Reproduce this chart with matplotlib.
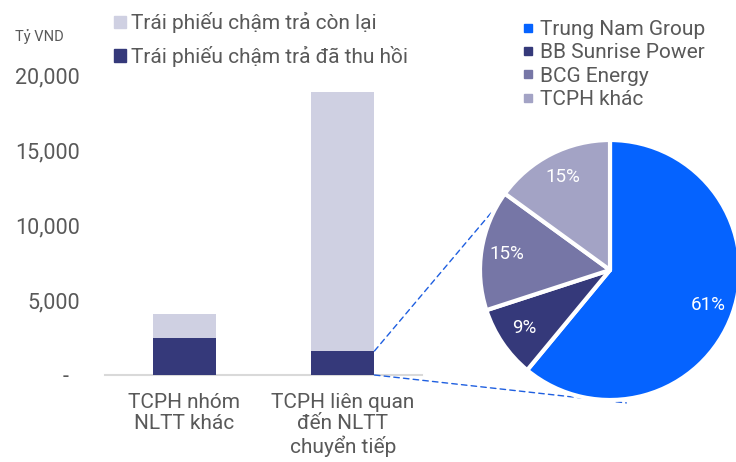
import matplotlib.pyplot as plt
from matplotlib.patches import Patch, ConnectionPatch
from matplotlib.lines import Line2D
import numpy as np

plt.rcParams['font.family'] = ['Roboto', 'DejaVu Sans']

# data
categories = ['TCPH nhóm\nNLTT khác', 'TCPH liên quan\nđến NLTT\nchuyển tiếp']
recovered = [2500, 1600]          # Trái phiếu chậm trả đã thu hồi
remaining = [1600, 17300]         # Trái phiếu chậm trả còn lại
yticks = [0, 5000, 10000, 15000, 20000]
ytick_labels = ['-  ', '5,000', '10,000', '15,000', '20,000']

pie_labels = ['Trung Nam Group', 'BB Sunrise Power', 'BCG Energy', 'TCPH khác']
pie_values = [61, 9, 15, 15]

dark = '#35397A'
light = '#CFD0E2'
pie_colors = ['#0563FF', '#35397A', '#7676A6', '#A3A3C5']
grey = '#595959'

W, H = 736, 462
fig = plt.figure(figsize=(W / 100, H / 100), dpi=100)

# bar chart
ax = fig.add_axes([105 / W, 1 - 375 / H, 317 / W, 300 / H])
x = np.arange(len(categories))
ax.bar(x, recovered, width=0.4, color=dark, zorder=2)
ax.bar(x, remaining, width=0.4, bottom=recovered, color=light, zorder=2)
ax.set_xlim(-0.5, 1.5)
ax.set_ylim(0, 20000)
ax.set_yticks(yticks)
ax.set_yticklabels(ytick_labels)
ax.set_xticks(x)
ax.set_xticklabels(categories, fontsize=15, color=grey, linespacing=1.15)
ax.tick_params(axis='y', length=0, labelsize=15.5, labelcolor=grey, pad=18)
ax.tick_params(axis='x', length=0, pad=13)
for s in ['top', 'right', 'left']:
    ax.spines[s].set_visible(False)
ax.spines['bottom'].set_color('#D9D9D9')
ax.spines['bottom'].set_linewidth(1.5)
ax.spines['bottom'].set_zorder(1)

fig.text(15 / W, 1 - 37 / H, 'Tỷ VND', fontsize=10.5, color=grey, va='center')

handles = [Patch(color=light), Patch(color=dark)]
fig.legend(handles, ['Trái phiếu chậm trả còn lại', 'Trái phiếu chậm trả đã thu hồi'],
           loc='upper left', bbox_to_anchor=(106 / W, 1 - 4 / H), frameon=False,
           fontsize=15, labelcolor=grey, handlelength=0.55, handleheight=0.55,
           handletextpad=0.25, labelspacing=0.6, borderaxespad=0)

# pie chart
cx, cy, R = 610, 270, 130
ax2 = fig.add_axes([(cx - R) / W, 1 - (cy + R) / H, 2 * R / W, 2 * R / H])
wedges, texts, autotexts = ax2.pie(pie_values, colors=pie_colors, startangle=90, counterclock=False,
                                   autopct='%d%%', pctdistance=0.8,
                                   wedgeprops=dict(edgecolor='white', linewidth=3, joinstyle='round'),
                                   textprops=dict(color='white', fontsize=13.5))
ax2.set_xlim(-1, 1)
ax2.set_ylim(-1, 1)
ax2.set_aspect('equal')
for w in wedges:
    w.set_clip_on(False)

leg_handles = [Line2D([], [], marker='s', linestyle='none', markersize=5.5, color=c) for c in pie_colors]
fig.legend(leg_handles, pie_labels, loc='upper left', bbox_to_anchor=(514 / W, 1 - 12 / H),
           frameon=False, fontsize=15, labelcolor=grey, handlelength=0.5,
           handletextpad=0.35, labelspacing=0.2, borderaxespad=0)

# connector lines from bar to pie
a1 = np.deg2rad(129)
a2 = np.deg2rad(-83)
con1 = ConnectionPatch(xyA=(1.2, recovered[1]), coordsA=ax.transData,
                       xyB=(np.cos(a1), np.sin(a1)), coordsB=ax2.transData,
                       color='#1F5FE0', linestyle=(0, (4, 3)), linewidth=1)
con2 = ConnectionPatch(xyA=(1.2, 0), coordsA=ax.transData,
                       xyB=(1.03 * np.cos(a2), 1.03 * np.sin(a2)), coordsB=ax2.transData,
                       color='#1F5FE0', linestyle=(0, (4, 3)), linewidth=1)
fig.add_artist(con1)
fig.add_artist(con2)
ax2.set_zorder(3)

fig.savefig('out.png', dpi=100)
